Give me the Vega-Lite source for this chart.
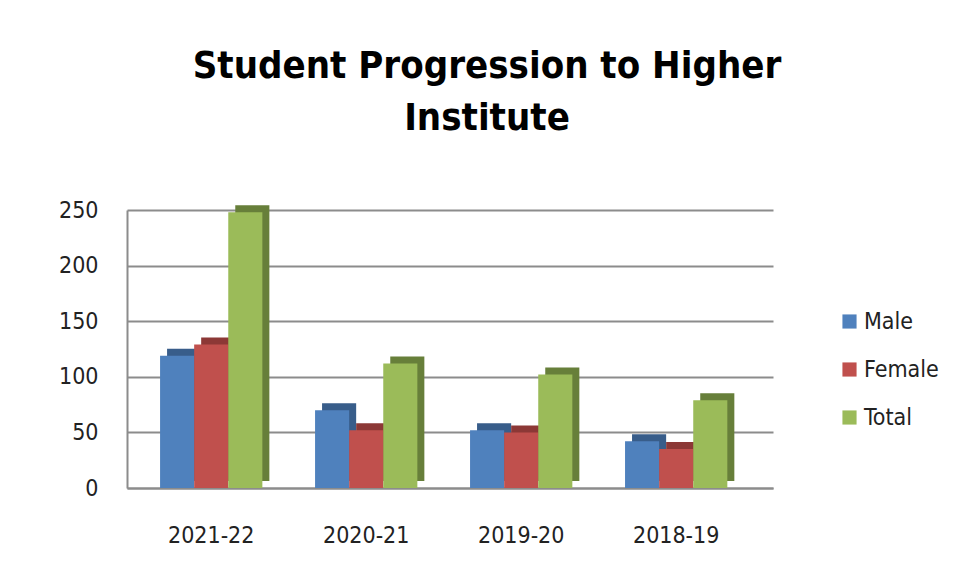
{
  "$schema": "https://vega.github.io/schema/vega-lite/v6.json",
  "width": 646,
  "height": 278,
  "autosize": {"type": "none"},
  "padding": {"left": 127, "top": 210, "right": 184, "bottom": 91},
  "background": "white",
  "config": {"view": {"stroke": null}, "font": "DejaVu Sans Condensed"},
  "title": {
    "text": ["Student Progression to Higher", "Institute"],
    "font": "DejaVu Sans Condensed",
    "fontSize": 38,
    "fontWeight": "bold",
    "color": "#000000",
    "lineHeight": 52,
    "anchor": "middle",
    "dx": 37,
    "offset": 61
  },
  "data": {
    "values": [
      {"year": "2021-22", "group": "Male", "value": 119},
      {"year": "2021-22", "group": "Female", "value": 129},
      {"year": "2021-22", "group": "Total", "value": 248},
      {"year": "2020-21", "group": "Male", "value": 70},
      {"year": "2020-21", "group": "Female", "value": 52},
      {"year": "2020-21", "group": "Total", "value": 112},
      {"year": "2019-20", "group": "Male", "value": 52},
      {"year": "2019-20", "group": "Female", "value": 50},
      {"year": "2019-20", "group": "Total", "value": 102},
      {"year": "2018-19", "group": "Male", "value": 42},
      {"year": "2018-19", "group": "Female", "value": 35},
      {"year": "2018-19", "group": "Total", "value": 79}
    ]
  },
  "encoding": {
    "x": {
      "field": "year",
      "type": "nominal",
      "sort": null,
      "scale": {"paddingInner": 0.34, "paddingOuter": 0.254, "align": 0.42},
      "axis": {
        "title": null,
        "labelAngle": 0,
        "ticks": false,
        "domain": true,
        "domainColor": "#8c8c8c",
        "domainWidth": 2,
        "labelFontSize": 23,
        "labelColor": "#222222",
        "labelPadding": 36,
        "labelFont": "DejaVu Sans Condensed"
      }
    },
    "y": {
      "field": "value",
      "type": "quantitative",
      "scale": {"domain": [0, 250]},
      "axis": {
        "title": null,
        "values": [0, 50, 100, 150, 200, 250],
        "grid": true,
        "gridColor": "#8c8c8c",
        "gridWidth": 2,
        "domain": true,
        "domainColor": "#8c8c8c",
        "domainWidth": 2,
        "ticks": false,
        "labelFontSize": 23,
        "labelColor": "#222222",
        "labelPadding": 29,
        "labelFont": "DejaVu Sans Condensed"
      }
    }
  },
  "layer": [
    {
      "mark": {"type": "bar", "yOffset": -7},
      "encoding": {
        "xOffset": {"field": "group", "sort": ["Male", "Female", "Total"], "scale": {"range": [7, 109.3], "paddingInner": 0, "paddingOuter": 0}},
        "color": {
          "field": "group",
          "type": "nominal",
          "scale": {"domain": ["Male", "Female", "Total"], "range": ["#385d8a", "#8c3836", "#677f3a"]},
          "legend": null
        }
      }
    },
    {
      "mark": {"type": "bar"},
      "encoding": {
        "xOffset": {"field": "group", "sort": ["Male", "Female", "Total"], "scale": {"paddingInner": 0, "paddingOuter": 0}},
        "color": {
          "field": "group",
          "type": "nominal",
          "scale": {"domain": ["Male", "Female", "Total"], "range": ["#4f81bd", "#c0504d", "#9bbb59"]},
          "legend": {
            "title": null,
            "orient": "none",
            "legendX": 711,
            "legendY": 100,
            "symbolType": "square",
            "symbolSize": 200,
            "symbolStrokeWidth": 0,
            "labelFontSize": 23,
            "labelColor": "#222222",
            "labelFont": "DejaVu Sans Condensed",
            "rowPadding": 24,
            "labelOffset": 3
          }
        }
      }
    }
  ],
  "resolve": {"scale": {"color": "independent", "xOffset": "independent"}}
}
